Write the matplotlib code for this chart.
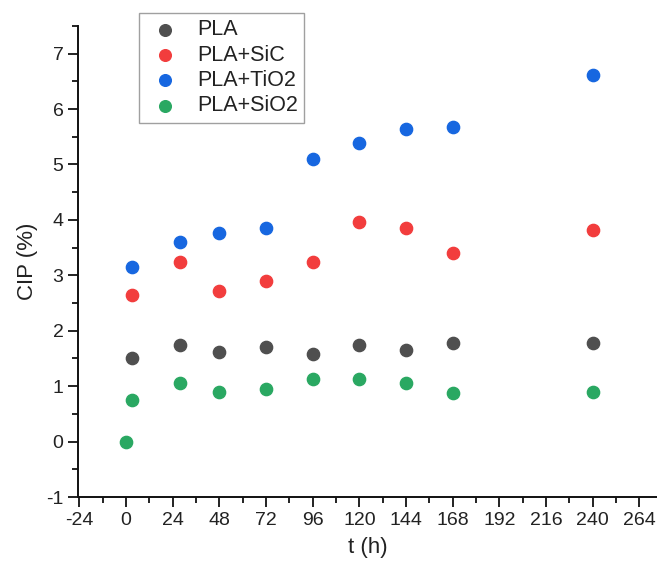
import matplotlib.pyplot as plt
from matplotlib.ticker import MultipleLocator

plt.rcParams['font.family'] = ['Liberation Sans', 'DejaVu Sans']
plt.rcParams['axes.unicode_minus'] = False

# data
t_main = [3, 28, 48, 72, 96, 120, 144, 168, 240]
t_sio2 = [0, 3, 28, 48, 72, 96, 120, 144, 168, 240]

pla = [1.50, 1.74, 1.61, 1.71, 1.58, 1.75, 1.65, 1.77, 1.77]
pla_sic = [2.65, 3.24, 2.71, 2.89, 3.24, 3.96, 3.85, 3.41, 3.82]
pla_tio2 = [3.15, 3.60, 3.77, 3.85, 5.10, 5.38, 5.64, 5.67, 6.61]
pla_sio2 = [0.0, 0.75, 1.06, 0.90, 0.95, 1.13, 1.13, 1.05, 0.88, 0.90]

fig = plt.figure(figsize=(6.57, 5.69), dpi=100)
ax = fig.add_axes([0.1187, 0.1265, 0.881, 0.828])

ms = 78
ax.scatter(t_main, pla, s=ms, color='#4f4f4f', label='PLA', zorder=3)
ax.scatter(t_main, pla_sic, s=ms, color='#f23d3d', label='PLA+SiC', zorder=3)
ax.scatter(t_main, pla_tio2, s=ms, color='#1767e0', label='PLA+TiO2', zorder=3)
ax.scatter(t_sio2, pla_sio2, s=ms, color='#2aa862', label='PLA+SiO2', zorder=3)

ax.set_xlim(-24.7, 273)
ax.set_ylim(-1, 7.5)
ax.xaxis.set_major_locator(MultipleLocator(24))
ax.xaxis.set_minor_locator(MultipleLocator(12))
ax.yaxis.set_major_locator(MultipleLocator(1))
ax.yaxis.set_minor_locator(MultipleLocator(0.5))

for s in ['top', 'right']:
    ax.spines[s].set_visible(False)
for s in ['left', 'bottom']:
    ax.spines[s].set_linewidth(1.4)
    ax.spines[s].set_color('#111111')

ax.tick_params(which='major', direction='out', length=7, width=1.3, labelsize=14,
               color='#111111', labelcolor='#222222')
ax.tick_params(which='minor', direction='out', length=4, width=1.3, color='#111111')

ax.set_xlabel('t (h)', fontsize=16, labelpad=6, color='#222222')
ax.set_ylabel('CIP (%)', fontsize=16, labelpad=6, color='#222222')

leg = fig.legend(loc='upper left', bbox_to_anchor=(139 / 657, 1 - 13 / 569),
                 borderaxespad=0, fontsize=15.5, frameon=True, fancybox=False,
                 handletextpad=0.59, labelspacing=0.2, borderpad=0.3,
                 handlelength=1.81, markerscale=0.95)
leg.get_frame().set_edgecolor('#888888')
leg.get_frame().set_linewidth(1.0)
for t in leg.get_texts():
    t.set_color('#222222')

fig.savefig('out.png', dpi=100)
